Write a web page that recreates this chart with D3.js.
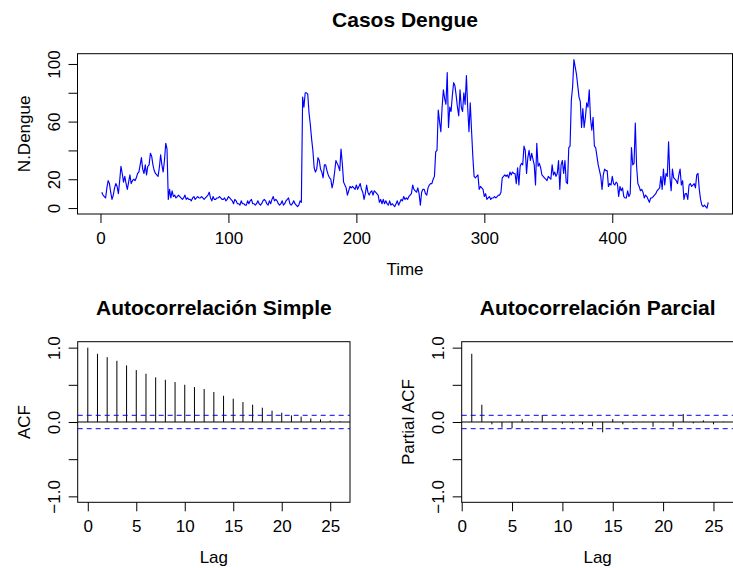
<!DOCTYPE html>
<html>
<head>
<meta charset="utf-8">
<script src="https://cdn.jsdelivr.net/npm/d3@7"></script>
<style>
  body { margin: 0; background: #fff; }
  svg text { font-family: "Liberation Sans", Arial, Helvetica, sans-serif; fill: #000; }
</style>
</head>
<body>
<svg id="chart" width="733" height="568"></svg>
<script>
// Weekly dengue case counts (N.Dengue), weeks 1..475
const dengueCases = [
  11, 9, 8, 7, 14, 19, 17, 11, 6, 9,
  14, 17, 15, 10, 19, 29, 24, 18, 22, 17,
  13, 18, 23, 17, 19, 20, 19, 21, 24, 25,
  30, 35, 27, 24, 30, 23, 29, 30, 38, 36,
  30, 26, 24, 23, 22, 28, 37, 30, 25, 33,
  45, 41, 6, 13, 7, 12, 8, 9, 7, 8,
  9, 8, 7, 6, 7, 9, 6, 7, 6, 6,
  5, 7, 8, 6, 7, 8, 7, 7, 8, 7,
  6, 7, 8, 9, 11, 7, 5, 8, 6, 6,
  7, 7, 8, 7, 6, 6, 7, 5, 6, 8,
  7, 6, 5, 3, 6, 5, 3, 3, 2, 5,
  3, 3, 2, 2, 5, 3, 5, 6, 3, 3,
  2, 3, 5, 3, 2, 3, 5, 6, 5, 3,
  2, 5, 3, 6, 8, 5, 6, 5, 3, 2,
  3, 5, 2, 3, 5, 6, 7, 3, 2, 3,
  5, 3, 2, 1, 2, 5, 4, 77, 70, 80,
  80, 79, 66, 58, 48, 40, 28, 25, 27, 35,
  33, 27, 25, 21, 30, 30, 26, 23, 21, 20,
  14, 18, 25, 33, 31, 29, 26, 41, 31, 18,
  16, 14, 9, 12, 15, 14, 15, 14, 13, 16,
  13, 15, 17, 13, 11, 6, 10, 16, 11, 9,
  11, 12, 9, 12, 11, 10, 9, 4, 6, 3,
  6, 3, 5, 3, 2, 5, 2, 3, 2, 1,
  3, 5, 2, 4, 6, 5, 8, 6, 7, 6,
  8, 9, 10, 16, 13, 12, 11, 14, 10, 2,
  11, 13, 13, 10, 9, 14, 16, 17, 17, 20,
  22, 39, 40, 68, 60, 53, 70, 82, 76, 72,
  94, 56, 70, 67, 78, 87, 85, 78, 70, 64,
  82, 70, 67, 80, 72, 92, 70, 53, 73, 54,
  36, 22, 21, 22, 23, 13, 15, 14, 13, 8,
  10, 6, 7, 8, 6, 7, 7, 8, 7, 8,
  9, 9, 11, 21, 22, 23, 22, 23, 21, 25,
  23, 25, 24, 24, 17, 28, 16, 29, 31, 30,
  43, 40, 24, 35, 40, 33, 38, 34, 30, 16,
  45, 29, 31, 28, 23, 22, 21, 20, 19, 22,
  21, 20, 30, 23, 25, 22, 24, 33, 13, 30,
  33, 24, 33, 18, 17, 42, 43, 75, 84, 103,
  98, 93, 85, 77, 74, 56, 69, 56, 63, 73,
  70, 82, 62, 54, 63, 43, 42, 36, 30, 26,
  22, 13, 23, 27, 26, 26, 15, 17, 16, 22,
  17, 16, 18, 17, 8, 15, 12, 14, 8, 7,
  7, 12, 8, 10, 42, 30, 31, 59, 29, 17,
  15, 12, 13, 11, 7, 9, 8, 6, 4, 7,
  7, 8, 9, 10, 12, 13, 14, 22, 13, 27,
  16, 24, 22, 46, 22, 12, 27, 21, 20, 19,
  17, 23, 27, 16, 19, 6, 10, 10, 6, 16,
  17, 15, 16, 17, 14, 23, 24, 13, 6, 2,
  1, 2, 1, 0, 4
];

// Sample autocorrelation, lags 0..26
const acfValues = [
  1.000, 0.917, 0.872, 0.823, 0.761, 0.698, 0.649, 0.600, 0.568, 0.537,
  0.501, 0.470, 0.443, 0.403, 0.353, 0.313, 0.268, 0.233, 0.192, 0.152,
  0.125, 0.089, 0.072, 0.049, 0.036, 0.018, 0.009
];

// Partial autocorrelation, lags 1..26
const pacfValues = [
  0.917, 0.232, -0.031, -0.076, -0.085, 0.040, 0.013, 0.094, 0.003, -0.022,
  -0.018, -0.031, -0.058, -0.139, 0.040, -0.031, -0.009, 0.003, -0.063, -0.005,
  -0.063, 0.107, -0.018, 0.022, -0.031, 0.005
];

// 95% white-noise band
const ciBound = 0.09;

const timeTicks = [0, 100, 200, 300, 400];
const timeTickLabels = ["0", "100", "200", "300", "400"];
const casesTicks = [0, 20, 40, 60, 80, 100];
const casesTickLabels = ["0", "20", "", "60", "", "100"];
const lagTicks = [0, 5, 10, 15, 20, 25];
const lagTickLabels = ["0", "5", "10", "15", "20", "25"];
const corrTicks = [-1, -0.5, 0, 0.5, 1];
const corrTickLabels = ["\u22121.0", "", "0.0", "", "1.0"];

const svg = d3.select("#chart");
svg.append("rect").attr("width", 733).attr("height", 568).attr("fill", "#fff");

const FONT = 17;
const TITLE_FONT = 21;
const TICK = 9;

// Pad a numeric extent by 4% on each side
function padded(lo, hi) {
  const d = (hi - lo) * 0.04;
  return [lo - d, hi + d];
}

function drawPanel(opts) {
  const { box, xDomain, yDomain, xTicks, xLabels, yTicks, yLabels, title, xTitle, yTitle, id } = opts;
  const x = d3.scaleLinear().domain(xDomain).range([box.x0, box.x1]);
  const y = d3.scaleLinear().domain(yDomain).range([box.y1, box.y0]);
  const g = svg.append("g");

  // bottom axis
  const xAxis = d3.axisBottom(x)
    .tickValues(xTicks)
    .tickFormat((d, i) => xLabels[i])
    .tickSize(TICK)
    .tickSizeOuter(0)
    .tickPadding(9);
  const gx = g.append("g").attr("transform", `translate(0,${box.y1})`).call(xAxis);
  gx.select(".domain").remove();
  gx.selectAll("line").attr("stroke", "#000");
  gx.selectAll("text").attr("font-size", FONT).attr("font-family", null);

  // left axis, labels parallel to the axis
  const yAxis = d3.axisLeft(y)
    .tickValues(yTicks)
    .tickFormat((d, i) => yLabels[i])
    .tickSize(TICK)
    .tickSizeOuter(0);
  const gy = g.append("g").attr("transform", `translate(${box.x0},0)`).call(yAxis);
  gy.select(".domain").remove();
  gy.selectAll("line").attr("stroke", "#000");
  gy.selectAll("text")
    .attr("font-size", FONT)
    .attr("font-family", null)
    .attr("transform", "rotate(-90)")
    .attr("x", 0)
    .attr("y", -18)
    .attr("dy", null)
    .attr("text-anchor", "middle");

  // frame
  g.append("rect")
    .attr("x", box.x0).attr("y", box.y0)
    .attr("width", box.x1 - box.x0).attr("height", box.y1 - box.y0)
    .attr("fill", "none").attr("stroke", "#000").attr("stroke-width", 1);

  const cx = (box.x0 + box.x1) / 2;
  const cy = (box.y0 + box.y1) / 2;
  g.append("text").attr("x", cx).attr("y", box.y0 - 27)
    .attr("text-anchor", "middle").attr("font-size", TITLE_FONT).attr("font-weight", "bold")
    .text(title);
  g.append("text").attr("x", cx).attr("y", box.y1 + 60.5)
    .attr("text-anchor", "middle").attr("font-size", FONT).text(xTitle);
  g.append("text")
    .attr("transform", `translate(${box.x0 - 48},${cy}) rotate(-90)`)
    .attr("text-anchor", "middle").attr("font-size", FONT).text(yTitle);

  svg.append("clipPath").attr("id", id)
    .append("rect").attr("x", box.x0).attr("y", box.y0)
    .attr("width", box.x1 - box.x0).attr("height", box.y1 - box.y0);
  const plot = svg.append("g").attr("clip-path", `url(#${id})`);
  return { x, y, plot };
}

// ---- Time series panel ----
const weeks = d3.range(1, dengueCases.length + 1);
const ts = drawPanel({
  id: "clip-ts",
  box: { x0: 77.5, x1: 732.5, y0: 53.7, y1: 214 },
  xDomain: padded(1, dengueCases.length),
  yDomain: padded(0, d3.max(dengueCases)),
  xTicks: timeTicks, xLabels: timeTickLabels,
  yTicks: casesTicks, yLabels: casesTickLabels,
  title: "Casos Dengue", xTitle: "Time", yTitle: "N.Dengue"
});
ts.plot.append("path")
  .datum(dengueCases)
  .attr("fill", "none")
  .attr("stroke", "#0000ff")
  .attr("stroke-width", 1.15)
  .attr("stroke-linejoin", "round")
  .attr("d", d3.line().x((d, i) => ts.x(weeks[i])).y(d => ts.y(d)));

// ---- Correlogram panels ----
function correlogram(panel, lags, values) {
  const { x, y, plot } = panel;
  plot.append("line")
    .attr("x1", x.range()[0]).attr("x2", x.range()[1])
    .attr("y1", y(0)).attr("y2", y(0))
    .attr("stroke", "#000").attr("stroke-width", 1);
  plot.selectAll("line.bar").data(values).enter().append("line")
    .attr("class", "bar")
    .attr("x1", (d, i) => x(lags[i])).attr("x2", (d, i) => x(lags[i]))
    .attr("y1", y(0)).attr("y2", d => y(d))
    .attr("stroke", "#000").attr("stroke-width", 1);
  [ciBound, -ciBound].forEach(b => {
    plot.append("line")
      .attr("x1", x.range()[0]).attr("x2", x.range()[1])
      .attr("y1", y(b)).attr("y2", y(b))
      .attr("stroke", "#0000ff").attr("stroke-width", 1)
      .attr("stroke-dasharray", "5,4");
  });
}

const acfLags = d3.range(0, acfValues.length);
const acfPanel = drawPanel({
  id: "clip-acf",
  box: { x0: 77.7, x1: 350, y0: 341.7, y1: 502.3 },
  xDomain: padded(0, acfLags[acfLags.length - 1]),
  yDomain: padded(-1, 1),
  xTicks: lagTicks, xLabels: lagTickLabels,
  yTicks: corrTicks, yLabels: corrTickLabels,
  title: "Autocorrelación Simple", xTitle: "Lag", yTitle: "ACF"
});
correlogram(acfPanel, acfLags, acfValues);

const pacfLags = d3.range(1, pacfValues.length + 1);
const pacfPanel = drawPanel({
  id: "clip-pacf",
  box: { x0: 461.7, x1: 733.6, y0: 341.7, y1: 502.3 },
  xDomain: padded(1, pacfLags[pacfLags.length - 1]),
  yDomain: padded(-1, 1),
  xTicks: lagTicks, xLabels: lagTickLabels,
  yTicks: corrTicks, yLabels: corrTickLabels,
  title: "Autocorrelación Parcial", xTitle: "Lag", yTitle: "Partial ACF"
});
correlogram(pacfPanel, pacfLags, pacfValues);
</script>
</body>
</html>
